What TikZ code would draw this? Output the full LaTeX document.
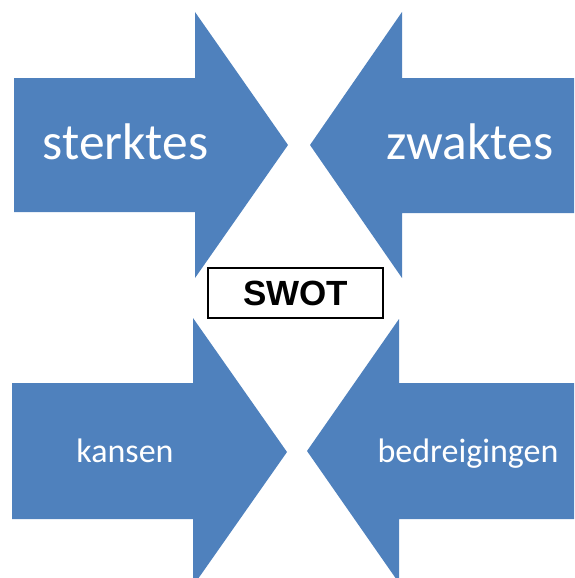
\documentclass[tikz,border=0pt]{standalone}
\usepackage{fontspec}
\setmainfont{Carlito}
\newfontfamily\swotfont{Liberation Sans}
\definecolor{swotblue}{HTML}{4F81BD}
\tikzset{
  arrowfill/.style={fill=swotblue},
  bigtext/.style={text=white, anchor=base, font=\fontsize{51.5}{60}\selectfont, inner sep=0pt},
  smalltext/.style={text=white, anchor=base, font=\fontsize{34}{40}\selectfont, inner sep=0pt},
}
\begin{document}
\begin{tikzpicture}[x=1pt,y=-1pt]
                \useasboundingbox (0,0) rectangle (574,578);
                \clip (0,0) rectangle (574,578);

                \fill[arrowfill] (14,78) -- (195,78) -- (195,12) -- (288,145) -- (195,278) -- (195,212) -- (14,212) -- cycle;
                \fill[arrowfill] (580,78) -- (402,78) -- (402,12) -- (310,145) -- (402,278) -- (402,213) -- (580,213) -- cycle;
                \fill[arrowfill] (12,383) -- (193,383) -- (193,318) -- (287,452) -- (193,586) -- (193,519) -- (12,519) -- cycle;
                \fill[arrowfill] (580,383) -- (399,383) -- (399,319) -- (307,451) -- (399,583) -- (399,519) -- (580,519) -- cycle;

                \node[bigtext] (sterk) at (125.5,159) {sterktes};
                \node[bigtext] (zwak) at (470,159) {zwaktes};
                \node[smalltext] (kans) at (125,462) {kansen};
                \node[smalltext] (bedreig) at (468,462) {bedreigingen};

                \node[draw=black, line width=1.2pt, fill=white, minimum width=175pt, minimum height=50pt,
                      font=\swotfont\bfseries\fontsize{35}{40}\selectfont] (swot) at (295.5,293) {SWOT};
            \end{tikzpicture}
\end{document}
